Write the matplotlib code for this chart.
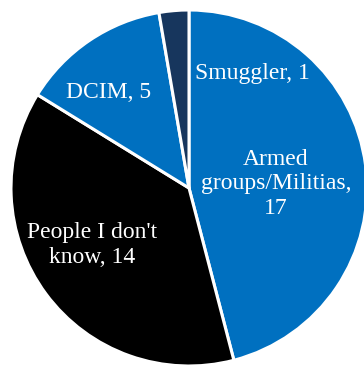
import matplotlib
matplotlib.use("Agg")
import matplotlib.pyplot as plt

categories = ["Armed\ngroups/Militias,\n", "People I don't\nknow, ", "DCIM, ", "Smuggler, "]
values = [17, 14, 5, 1]
colors = ["#0070C0", "#000000", "#0070C0", "#17365D"]

# label anchor positions (pixel layout, y measured from top)
label_pos = [(276, 184), (92, 245), (109, 92), (252, 73)]

fig = plt.figure(figsize=(3.64, 3.67), dpi=100)
ax = fig.add_axes([0, 0, 1, 1])

ax.pie(values, colors=colors, startangle=90, counterclock=False,
       radius=178, center=(189, 367 - 188), frame=True,
       wedgeprops=dict(edgecolor="white", linewidth=2.2))
ax.set_xlim(0, 364)
ax.set_ylim(0, 367)
ax.set_aspect("equal")
ax.axis("off")

for cat, val, (px, py) in zip(categories, values, label_pos):
    ax.text(px, 367 - py, f"{cat}{val}", ha="center", va="center",
            multialignment="center",
            color="white", fontsize=17, family="Liberation Serif",
            linespacing=1.2)

fig.savefig("out.png", dpi=100)
